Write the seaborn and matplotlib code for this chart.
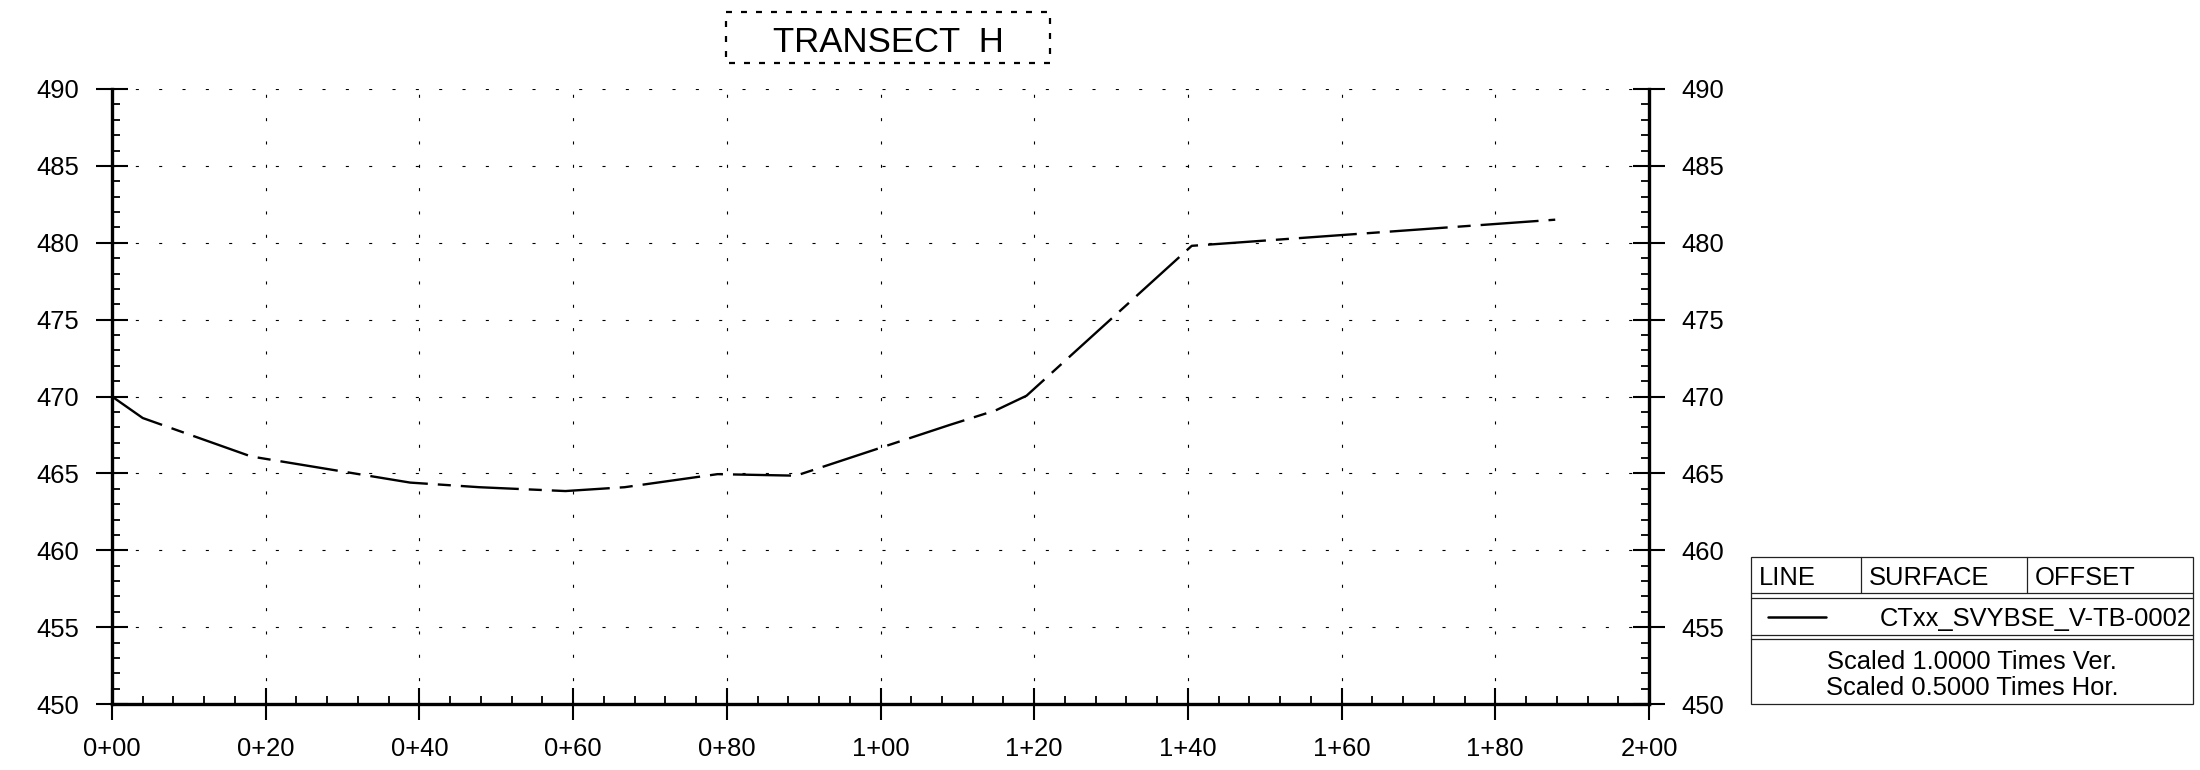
import matplotlib
matplotlib.use("Agg")
import matplotlib.pyplot as plt
import seaborn as sns
import pandas as pd
from matplotlib.ticker import FixedLocator, MultipleLocator
from matplotlib.patches import Rectangle
from matplotlib.lines import Line2D

# ---------------- data ----------------
stations = [0.0, 4.0, 18.1, 38.8, 47.8, 59.0, 66.7, 78.8, 89.0,
            109.0, 115.0, 119.0, 140.5, 160.0, 187.8]
elevations = [470.0, 468.6, 466.1, 464.4, 464.1, 463.85, 464.1, 464.95, 464.85,
              468.15, 469.1, 470.05, 479.8, 480.5, 481.5]

x_tick_values = [0, 20, 40, 60, 80, 100, 120, 140, 160, 180, 200]
x_tick_labels = ["0+00", "0+20", "0+40", "0+60", "0+80", "1+00",
                 "1+20", "1+40", "1+60", "1+80", "2+00"]
y_tick_values = [450, 455, 460, 465, 470, 475, 480, 485, 490]

title_text = "TRANSECT  H"
legend_headers = ["LINE", "SURFACE", "OFFSET"]
surface_name = "CTxx_SVYBSE_V-TB-0002"
scale_notes = ["Scaled 1.0000 Times Ver.", "Scaled 0.5000 Times Hor."]

# ---------------- style ----------------
sns.set_style("white")
plt.rcParams["font.family"] = ["Liberation Sans", "DejaVu Sans"]
plt.rcParams["lines.scale_dashes"] = False

W, H = 2200, 770
fig = plt.figure(figsize=(W / 100, H / 100), dpi=100)
ax_left, ax_right, ax_top, ax_bottom = 112, 1649, 89, 704
ax = fig.add_axes([ax_left / W, 1 - ax_bottom / H,
                   (ax_right - ax_left) / W, (ax_bottom - ax_top) / H])

df = pd.DataFrame({"station": stations, "elevation": elevations})
sns.lineplot(data=df, x="station", y="elevation", ax=ax, color="black",
             linewidth=1.7, linestyle=(0, (41.8, 7.2, 9.4, 7.2)),
             sort=False, estimator=None, legend=False, zorder=3)

ax.set_xlim(0, 200)
ax.set_ylim(450, 490)
ax.set_xlabel("")
ax.set_ylabel("")

ax.xaxis.set_major_locator(FixedLocator(x_tick_values))
ax.set_xticklabels(x_tick_labels)
ax.xaxis.set_minor_locator(MultipleLocator(4))
ax.yaxis.set_major_locator(FixedLocator(y_tick_values))
ax.yaxis.set_minor_locator(MultipleLocator(1))

ax.grid(True, which="major", color="black", linewidth=0.8,
        linestyle=(0, (2.2, 14.6)))

for side in ["left", "right", "bottom"]:
    ax.spines[side].set_visible(True)
    ax.spines[side].set_linewidth(2.4)
    ax.spines[side].set_color("black")
ax.spines["top"].set_visible(False)

ax.tick_params(axis="both", which="major", direction="inout", length=23,
               width=1.5, color="black", labelsize=18.4, labelcolor="black")
ax.tick_params(axis="both", which="minor", direction="in", length=5.8,
               width=1.3, color="black")
ax.tick_params(axis="y", which="both", left=True, right=True,
               labelleft=True, labelright=True)
ax.tick_params(axis="y", which="major", pad=12)
ax.tick_params(axis="x", which="both", bottom=True, top=False)
ax.tick_params(axis="x", which="major", pad=12)

# ---------------- overlay: title box + legend table ----------------
oax = fig.add_axes([0, 0, 1, 1], zorder=5)
oax.set_xlim(0, W)
oax.set_ylim(H, 0)
oax.axis("off")

oax.add_patch(Rectangle((726, 12), 324, 51, fill=False, ec="black",
                        lw=1.6, ls=(0, (4.3, 6.5))))
oax.text(888.5, 51.7, title_text, ha="center", va="baseline", fontsize=25,
         family=["Liberation Sans Narrow", "Liberation Sans", "DejaVu Sans"],
         color="black")

lc = "#222222"
lw = 0.9
L, R, T, B = 1751, 2193, 556.7, 704
oax.add_patch(Rectangle((L, T), R - L, B - T, fill=False, ec=lc, lw=lw))
for yy in [593.3, 598.3, 635.0, 639.3]:
    oax.add_line(Line2D([L, R], [yy, yy], color=lc, lw=lw))
for xx in [1861, 2027.3]:
    oax.add_line(Line2D([xx, xx], [T, 593.3], color=lc, lw=lw))

for xx, txt in zip([1759, 1869.3, 2035], legend_headers):
    oax.text(xx, 585, txt, ha="left", va="baseline", fontsize=18.4, color="black")

oax.add_line(Line2D([1768, 1826], [617.3, 617.3], color="black", lw=1.8))
oax.text(1880, 626, surface_name, ha="left", va="baseline", fontsize=18.4,
         color="black")
for yy, txt in zip([669.3, 695.0], scale_notes):
    oax.text(1972, yy, txt, ha="center", va="baseline", fontsize=18.4,
             color="black")

fig.savefig("out.png", dpi=100, facecolor="white")
